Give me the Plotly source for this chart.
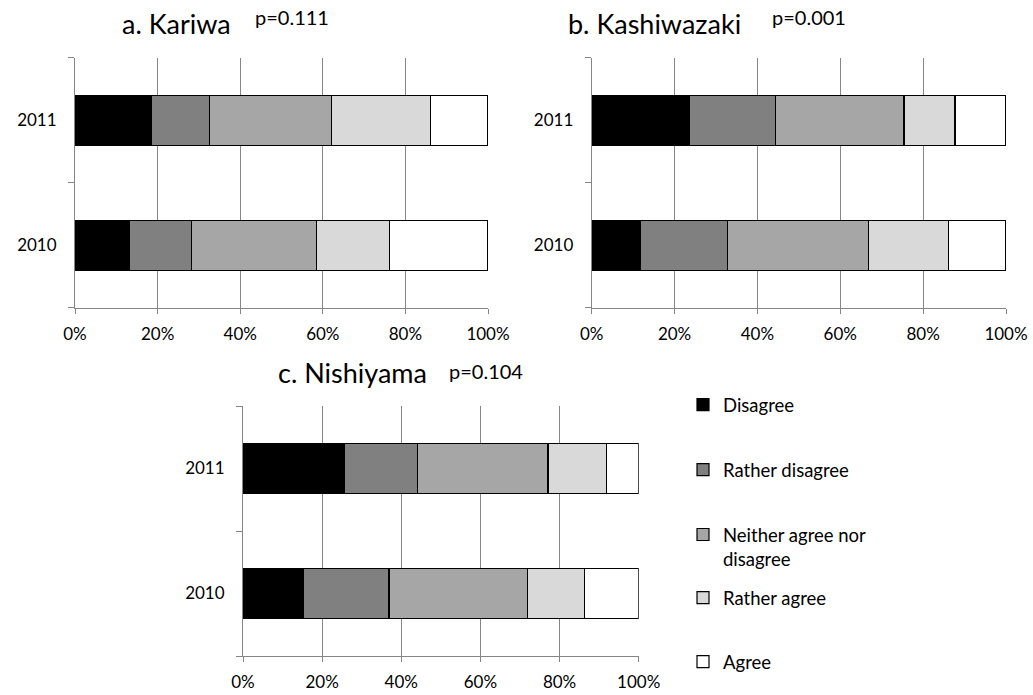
import plotly.graph_objects as go

W, H = 1033, 695


def px(x):
    return x / W


def py(y):
    return 1 - y / H


FONT = "Lato"
AXIS_GREY = "#868686"

years = ["2010", "2011"]
responses = ["Disagree", "Rather disagree", "Neither agree nor<br>disagree",
             "Rather agree", "Agree"]
fill_colors = ["#000000", "#808080", "#a6a6a6", "#d9d9d9", "#ffffff"]

# Share of respondents (%) per response category, Disagree -> Agree
kariwa_2010 = [13.1, 15.2, 30.1, 17.7, 23.9]
kariwa_2011 = [18.5, 14.0, 29.7, 23.8, 14.0]
kashiwazaki_2010 = [11.8, 21.0, 34.1, 19.3, 13.8]
kashiwazaki_2011 = [23.7, 20.6, 31.1, 12.3, 12.3]
nishiyama_2010 = [15.3, 21.6, 34.9, 14.6, 13.6]
nishiyama_2011 = [25.5, 18.6, 33.0, 14.8, 8.1]

panel_titles = ["a. Kariwa", "b. Kashiwazaki", "c. Nishiyama"]
p_values = ["p=0.111", "p=0.001", "p=0.104"]
x_ticks = [0, 20, 40, 60, 80, 100]
x_tick_labels = ["0%", "20%", "40%", "60%", "80%", "100%"]

panels = [
    (kariwa_2010, kariwa_2011),
    (kashiwazaki_2010, kashiwazaki_2011),
    (nishiyama_2010, nishiyama_2011),
]

# plot areas in pixels: (left, right, top, bottom)
boxes = [
    (75, 488, 57.7, 307.7),
    (591.7, 1006, 57.7, 307.7),
    (243, 638.7, 406, 656),
]

legend_names = ["legend", "legend2", "legend3", "legend4", "legend5"]

fig = go.Figure()

for p, (v2010, v2011) in enumerate(panels):
    xa = "x" if p == 0 else f"x{p + 1}"
    ya = "y" if p == 0 else f"y{p + 1}"
    for i, name in enumerate(responses):
        fig.add_trace(go.Bar(
            y=years,
            x=[v2010[i], v2011[i]],
            orientation="h",
            name=name,
            marker=dict(color=fill_colors[i], line=dict(color="#000000", width=1.2)),
            xaxis=xa,
            yaxis=ya,
            showlegend=(p == 0),
            legend=legend_names[i],
            hovertemplate="%{y}: %{x:.1f}%<extra>" + name.replace("<br>", " ") + "</extra>",
        ))

layout = dict(
    template="none",
    width=W,
    height=H,
    margin=dict(l=0, r=0, t=0, b=0, pad=0, autoexpand=False),
    paper_bgcolor="white",
    plot_bgcolor="white",
    barmode="stack",
    bargap=0.6,
    font=dict(family=FONT, size=17, color="#000000"),
)

for p, (l, r, t, b) in enumerate(boxes):
    suffix = "" if p == 0 else str(p + 1)
    layout["xaxis" + suffix] = dict(
        domain=[px(l), px(r)],
        anchor="y" + suffix,
        range=[0, 100],
        tickvals=x_ticks,
        ticktext=x_tick_labels,
        showgrid=True,
        gridcolor=AXIS_GREY,
        gridwidth=1,
        showline=True,
        linecolor=AXIS_GREY,
        linewidth=1,
        ticks="outside",
        ticklen=5,
        tickcolor=AXIS_GREY,
        zeroline=False,
        automargin=False,
        tickfont=dict(family=FONT, size=17),
        ticklabelstandoff=6,
        fixedrange=True,
    )
    layout["yaxis" + suffix] = dict(
        domain=[py(b), py(t)],
        anchor="x" + suffix,
        type="category",
        categoryorder="array",
        categoryarray=years,
        range=[-0.5, 1.5],
        showgrid=False,
        showline=True,
        linecolor=AXIS_GREY,
        linewidth=1,
        ticks="outside",
        ticklen=6,
        tickcolor=AXIS_GREY,
        tickson="boundaries",
        zeroline=False,
        automargin=False,
        tickfont=dict(family=FONT, size=17),
        ticklabelstandoff=14,
        fixedrange=True,
    )

# one legend block per response so each entry sits at its own height
legend_rows = [398, 463, 528, 591, 655]
for i, lname in enumerate(legend_names):
    layout[lname] = dict(
        x=px(683),
        xanchor="left",
        y=py(legend_rows[i] - 12),
        yanchor="top",
        valign="top",
        bgcolor="rgba(0,0,0,0)",
        borderwidth=0,
        itemwidth=30,
        font=dict(family=FONT, size=18.5, color="#000000"),
        itemclick=False,
        itemdoubleclick=False,
    )

fig.update_layout(**layout)

# panel titles and significance levels
title_pos = [(176.7, 24), (654, 24), (352.5, 373)]
p_pos = [(292, 17), (809, 17), (486, 371)]
for (tx, ty), title in zip(title_pos, panel_titles):
    fig.add_annotation(x=px(tx), y=py(ty), xref="paper", yref="paper",
                       text=title, showarrow=False, xanchor="center", yanchor="middle",
                       font=dict(family=FONT, size=27, color="#000000"))
for (tx, ty), pv in zip(p_pos, p_values):
    fig.add_annotation(x=px(tx), y=py(ty), xref="paper", yref="paper",
                       text=pv, showarrow=False, xanchor="center", yanchor="middle",
                       font=dict(family=FONT, size=20, color="#000000"))

fig.write_html("out.html")
